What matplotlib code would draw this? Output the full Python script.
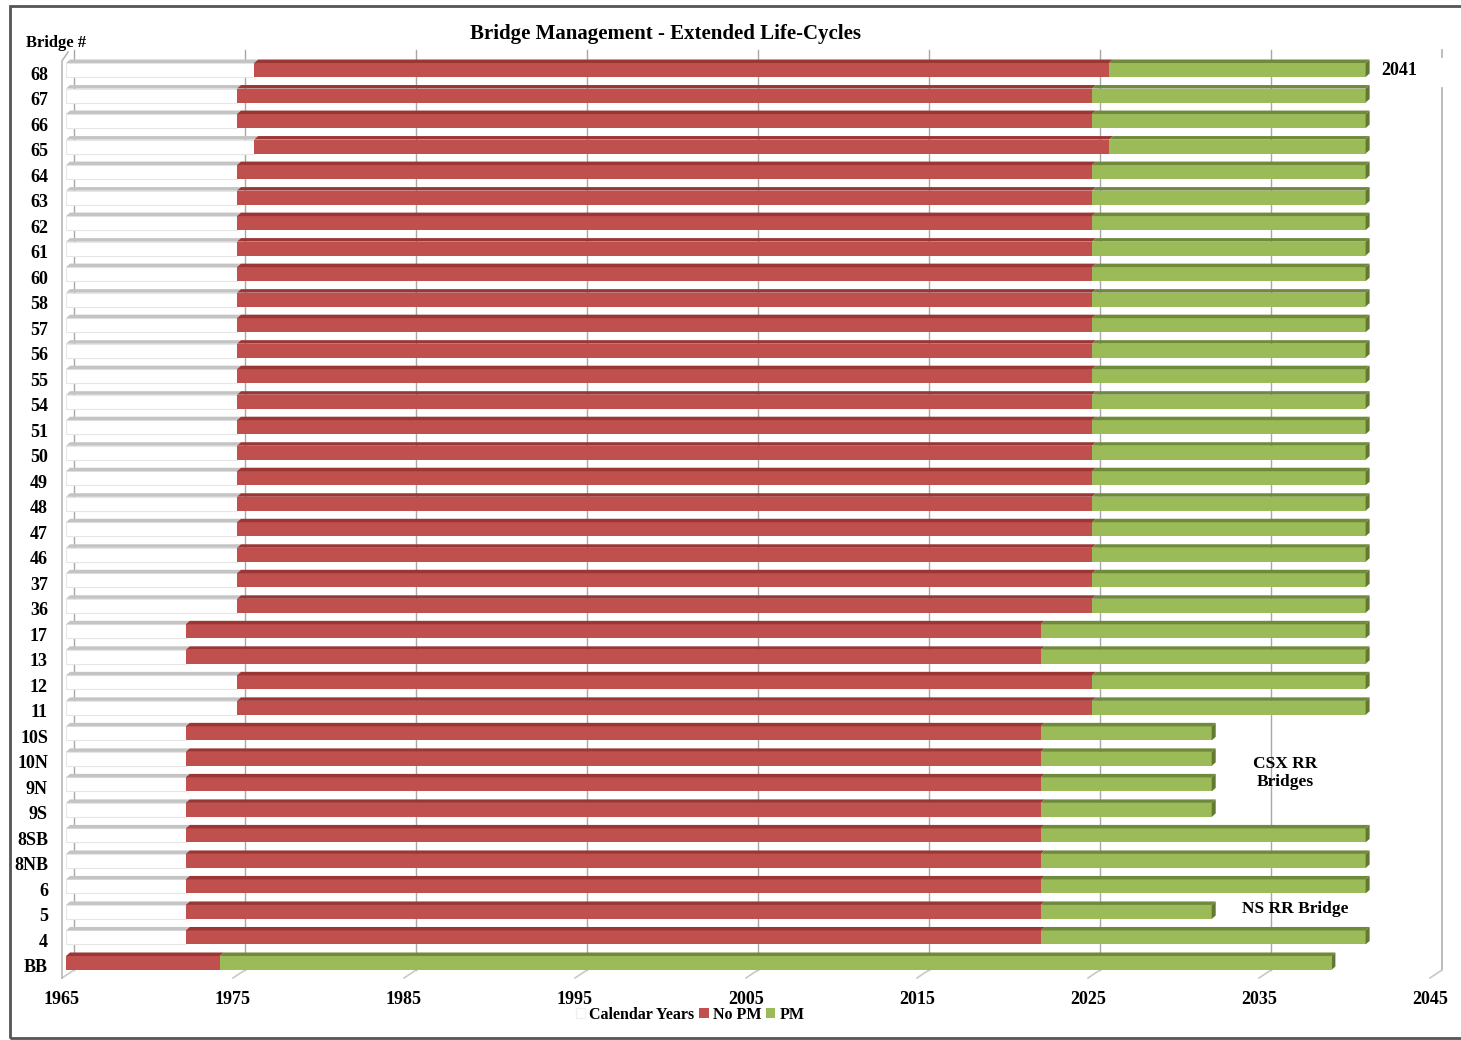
import matplotlib
matplotlib.use("Agg")
import matplotlib.pyplot as plt
from matplotlib.patches import Polygon, Rectangle, Patch
from matplotlib.transforms import ScaledTranslation

# bridge ids, bottom row first
bridges = ['BB', '4', '5', '6', '8NB', '8SB', '9S', '9N', '10N', '10S',
           '11', '12', '13', '17', '36', '37', '46', '47', '48', '49',
           '50', '51', '54', '55', '56', '57', '58', '60', '61', '62',
           '63', '64', '65', '66', '67', '68']

# stacked segment lengths in years, starting at 1965
calendar_years = [0, 7, 7, 7, 7, 7, 7, 7, 7, 7,
                  10, 10, 7, 7, 10, 10, 10, 10, 10, 10,
                  10, 10, 10, 10, 10, 10, 10, 10, 10, 10,
                  10, 10, 11, 10, 10, 11]
no_pm = [9, 50, 50, 50, 50, 50, 50, 50, 50, 50,
         50, 50, 50, 50, 50, 50, 50, 50, 50, 50,
         50, 50, 50, 50, 50, 50, 50, 50, 50, 50,
         50, 50, 50, 50, 50, 50]
pm = [65, 19, 10, 19, 19, 19, 10, 10, 10, 10,
      16, 16, 19, 19, 16, 16, 16, 16, 16, 16,
      16, 16, 16, 16, 16, 16, 16, 16, 16, 16,
      16, 16, 15, 16, 16, 15]

year_ticks = [1965, 1975, 1985, 1995, 2005, 2015, 2025, 2035, 2045]

FONT = 'Liberation Serif'
W, H = 1461, 1040

fig = plt.figure(figsize=(W / 100, H / 100), dpi=100)
ax = fig.add_axes([66 / W, 1 - 988.5 / H, 1368 / W, 944 / H])

# pixel -> data conversion for the fake 3d offsets
px_x = 1368 / 80.0
px_y = 944 / 37.0
def dx(p):
    return p / px_x
def dy(p):
    return p / px_y

bar_h = dy(14)
depth_x, depth_y = dx(4), dy(3.5)
back_x = dx(12)

colors = {
    'white': ('white', '#c4c4c4', '#c4c4c4'),
    'red': ('#c0504d', '#9a3634', '#8c2f2d'),
    'green': ('#9bbb59', '#6f8a3a', '#62792f'),
}

# back gridlines and floor edges
floor_front = -1 + dy(988.5 - 978)
floor_back = -1 + dy(988.5 - 970)
grid_top = -1 + dy(988.5 - 50)
for yr in year_ticks:
    xb = yr - dx(4) + back_x
    if yr == 2045:
        ax.plot([xb, xb], [floor_back, -1 + dy(988.5 - 88)], color='#b0b0b0', lw=1.2,
                zorder=1, clip_on=False)
        ax.plot([xb, xb], [-1 + dy(988.5 - 57), grid_top], color='#b0b0b0', lw=1.2,
                zorder=1, clip_on=False)
    else:
        ax.plot([xb, xb], [floor_back, grid_top], color='#a8a8a8', lw=1.0, zorder=1,
                clip_on=False)
    ax.plot([yr - dx(4), xb], [floor_front, floor_back], color='#c8c8c8', lw=1.2,
            zorder=1, clip_on=False)

# left wall edge
x_wall = 1965 - dx(4)
ax.plot([x_wall, x_wall, x_wall + dx(6)],
        [floor_front, -1 + dy(988.5 - 61), -1 + dy(988.5 - 52)],
        color='#b8b8b8', lw=1.2, zorder=1, clip_on=False)

ys = list(range(len(bridges)))

def draw_3d(y, left, width, key, cap):
    face, top, side = colors[key]
    y1 = y + bar_h / 2
    ax.add_patch(Polygon([(left, y1), (left + width, y1),
                          (left + width + depth_x, y1 + depth_y), (left + depth_x, y1 + depth_y)],
                         closed=True, facecolor=top, edgecolor='none', zorder=3))
    if cap:
        y0 = y - bar_h / 2
        ax.add_patch(Polygon([(left + width, y0), (left + width + depth_x, y0 + depth_y),
                              (left + width + depth_x, y1 + depth_y), (left + width, y1)],
                             closed=True, facecolor=side, edgecolor='none', zorder=3))

left_cal = [1965] * len(bridges)
left_red = [1965 + c for c in calendar_years]
left_green = [1965 + c + n for c, n in zip(calendar_years, no_pm)]

ax.barh(ys, calendar_years, left=left_cal, height=bar_h, color='white',
        edgecolor='#e6e6e6', linewidth=0.8, zorder=2.5)
ax.barh(ys, no_pm, left=left_red, height=bar_h, color=colors['red'][0], zorder=3)
ax.barh(ys, pm, left=left_green, height=bar_h, color=colors['green'][0], zorder=3)

for i in ys:
    if calendar_years[i] > 0:
        draw_3d(i, left_cal[i], calendar_years[i], 'white', False)
    draw_3d(i, left_red[i], no_pm[i], 'red', False)
    draw_3d(i, left_green[i], pm[i], 'green', True)

ax.set_yticks(ys)
ax.set_yticklabels(bridges, fontfamily=FONT, fontweight='bold', fontsize=13)
ax.set_xticks(year_ticks)
ax.set_xticklabels([str(y) for y in year_ticks], fontfamily=FONT, fontweight='bold', fontsize=13)
ax.set_xlim(1965, 2045)
ax.set_ylim(-1, 36)
ax.tick_params(axis='both', length=0)
ax.tick_params(axis='y', pad=13)
ax.tick_params(axis='x', pad=2)
# labels sit on the front edge of the floor / a bit below the bar centres
xshift = ScaledTranslation(-4 / 100, 0, fig.dpi_scale_trans)
for lab in ax.get_xticklabels():
    lab.set_transform(lab.get_transform() + xshift)
yshift = ScaledTranslation(0, -3 / 100, fig.dpi_scale_trans)
for lab in ax.get_yticklabels():
    lab.set_transform(lab.get_transform() + yshift)
for s in ax.spines.values():
    s.set_visible(False)

# labels on the plot
ax.text(2041 + dx(16), 35, '2041', fontfamily=FONT, fontweight='bold', fontsize=13,
        ha='left', va='center')
ax.text(2036.3, 7.45, 'CSX RR\nBridges', fontfamily=FONT, fontweight='bold', fontsize=12.5,
        ha='center', va='center', linespacing=1.1)
ax.text(2036.9, 2.1, 'NS RR Bridge', fontfamily=FONT, fontweight='bold', fontsize=12.5,
        ha='center', va='center')

fig.text(665 / W, 1 - 34 / H, 'Bridge Management - Extended Life-Cycles',
         fontfamily=FONT, fontweight='bold', fontsize=15, ha='center', va='center')
fig.text(26 / W, 1 - 43 / H, 'Bridge #', fontfamily=FONT, fontweight='bold', fontsize=12,
         ha='left', va='center')

handles = [Patch(facecolor='white', edgecolor='#f0f0f0', label='Calendar Years'),
           Patch(facecolor=colors['red'][0], label='No PM'),
           Patch(facecolor=colors['green'][0], label='PM')]
fig.legend(handles=handles, loc='center', bbox_to_anchor=(690 / W, 1 - 1015 / H), ncol=3,
           frameon=False, handlelength=0.6, handleheight=0.6, handletextpad=0.25,
           columnspacing=0.3, borderpad=0.1,
           prop={'family': FONT, 'weight': 'bold', 'size': 11.5})

# outer frame
fig.patches.append(Rectangle((10 / W, 1 - 1038 / H), 1.1, (1038 - 6) / H,
                             transform=fig.transFigure, fill=False,
                             edgecolor='#555555', linewidth=2, clip_on=False))

fig.savefig('out.png', dpi=100)
